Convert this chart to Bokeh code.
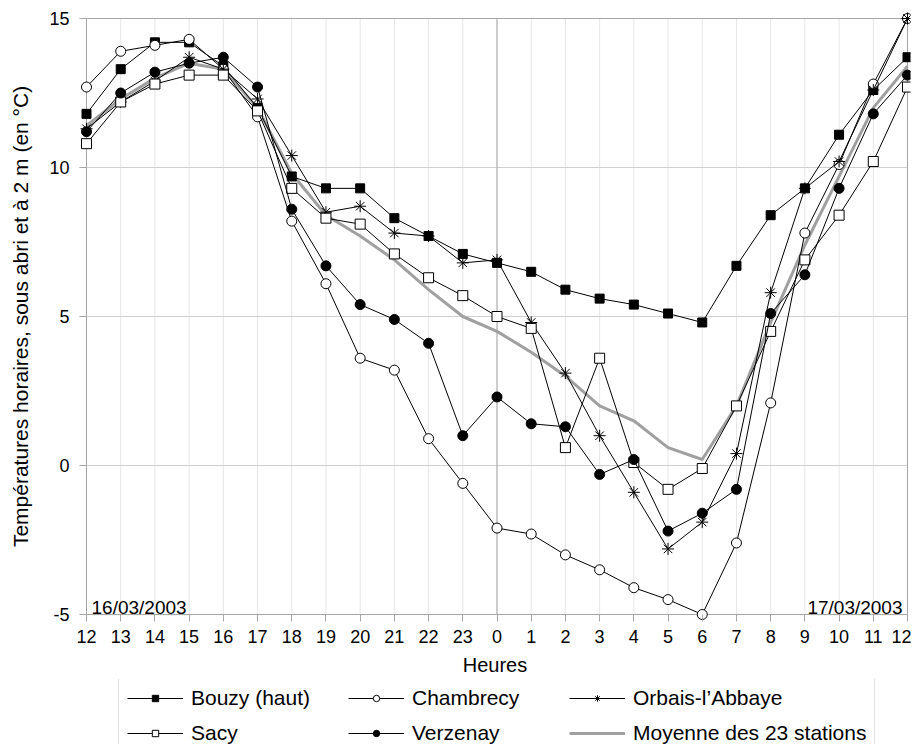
from bokeh.plotting import figure
from bokeh.layouts import column
from bokeh.models import FixedTicker, Label, Legend, LegendItem, Range1d
from bokeh.embed import file_html
from bokeh.resources import INLINE

# ---- data ----
hour_labels = ["12", "13", "14", "15", "16", "17", "18", "19", "20", "21", "22", "23",
               "0", "1", "2", "3", "4", "5", "6", "7", "8", "9", "10", "11", "12"]
y_ticks = [-5, 0, 5, 10, 15]

bouzy = [11.8, 13.3, 14.2, 14.2, 13.4, 12.0, 9.7, 9.3, 9.3, 8.3, 7.7, 7.1, 6.8, 6.5, 5.9,
         5.6, 5.4, 5.1, 4.8, 6.7, 8.4, 9.3, 11.1, 12.6, 13.7]
chambrecy = [12.7, 13.9, 14.1, 14.3, 13.3, 11.7, 8.2, 6.1, 3.6, 3.2, 0.9, -0.6, -2.1, -2.3, -3.0,
             -3.5, -4.1, -4.5, -5.0, -2.6, 2.1, 7.8, 10.1, 12.8, 15.0]
orbais = [11.3, 12.2, 12.9, 13.7, 13.3, 12.3, 10.4, 8.5, 8.7, 7.8, 7.7, 6.8, 6.9, 4.8, 3.1,
          1.0, -0.9, -2.8, -1.9, 0.4, 5.8, 9.3, 10.2, 12.6, 15.0]
sacy = [10.8, 12.2, 12.8, 13.1, 13.1, 11.9, 9.3, 8.3, 8.1, 7.1, 6.3, 5.7, 5.0, 4.6, 0.6,
        3.6, 0.1, -0.8, -0.1, 2.0, 4.5, 6.9, 8.4, 10.2, 12.7]
verzenay = [11.2, 12.5, 13.2, 13.5, 13.7, 12.7, 8.6, 6.7, 5.4, 4.9, 4.1, 1.0, 2.3, 1.4, 1.3,
            -0.3, 0.2, -2.2, -1.6, -0.8, 5.1, 6.4, 9.3, 11.8, 13.1]
moyenne = [11.4, 12.3, 13.0, 13.5, 13.3, 12.0, 9.8, 8.4, 7.7, 6.9, 5.9, 5.0, 4.5, 3.8, 3.0,
           2.0, 1.5, 0.6, 0.2, 2.0, 4.8, 7.4, 9.7, 12.0, 13.4]

series_names = ["Bouzy (haut)", "Chambrecy", "Orbais-l\u2019Abbaye", "Sacy", "Verzenay",
                "Moyenne des 23 stations"]

x = list(range(len(hour_labels)))
x_first, x_last = x[0], x[-1]
y_min, y_max = y_ticks[0], y_ticks[-1]
midnight = hour_labels.index("0")

FONT = "Liberation Sans"

# ---- layout (pixels) ----
W = 911
FRAME_L, FRAME_R_BORDER, FRAME_T = 79, 1, 11
PAD_L, PAD_R, PAD_T, PAD_B = 7, 3, 7, 7
DATA_W = W - FRAME_L - FRAME_R_BORDER - PAD_L - PAD_R
DATA_H = 596
H1 = 679
H2 = 744 - H1
frame_bottom = FRAME_T + PAD_T + DATA_H + PAD_B
px_x = DATA_W / (x_last - x_first)
px_y = DATA_H / (y_max - y_min)

p = figure(width=W, height=H1, output_backend="svg", toolbar_location=None,
           x_range=Range1d(x_first - PAD_L / px_x, x_last + PAD_R / px_x),
           y_range=Range1d(y_min - PAD_B / px_y, y_max + PAD_T / px_y),
           min_border_left=FRAME_L, min_border_right=FRAME_R_BORDER,
           min_border_top=FRAME_T, min_border_bottom=H1 - frame_bottom)
p.outline_line_color = None
p.background_fill_color = "white"
p.border_fill_color = "white"
p.xgrid.visible = False
p.ygrid.visible = False

# grid lines
p.segment(x0=x, y0=[y_min] * len(x), x1=x, y1=[y_max] * len(x),
          line_color="#e6e6e6", line_width=1)
inner_y = y_ticks[1:-1]
p.segment(x0=[x_first] * len(inner_y), y0=inner_y, x1=[x_last] * len(inner_y), y1=inner_y,
          line_color="#d0d0d0", line_width=1)
# frame border + midnight line
p.segment(x0=[x_first, x_last, midnight, x_first, x_first],
          y0=[y_min, y_min, y_min, y_max, y_min],
          x1=[x_first, x_last, midnight, x_last, x_last],
          y1=[y_max, y_max, y_max, y_max, y_min],
          line_color="#a6a6a6", line_width=1)

# axes
p.xaxis.ticker = FixedTicker(ticks=x)
p.xaxis.major_label_overrides = {i: lab for i, lab in enumerate(hour_labels)}
p.yaxis.ticker = FixedTicker(ticks=y_ticks)
p.yaxis.major_label_overrides = {v: str(v) for v in y_ticks}
for ax in (p.xaxis[0], p.yaxis[0]):
    ax.axis_line_color = None
    ax.major_tick_in = 7
    ax.major_tick_out = 0
    ax.major_tick_line_color = "#a6a6a6"
    ax.minor_tick_line_color = None
    ax.major_label_text_font = FONT
    ax.major_label_text_font_size = "18px"
    ax.major_label_text_color = "black"
    ax.axis_label_text_font = FONT
    ax.axis_label_text_font_style = "normal"
    ax.axis_label_text_color = "black"
p.xaxis.axis_label = "Heures"
p.yaxis.axis_label = "Températures horaires, sous abri et à 2 m (en °C)"
p.xaxis.axis_label_text_font_size = "20px"
p.yaxis.axis_label_text_font_size = "21px"
p.xaxis.major_label_standoff = 8
p.xaxis.axis_label_standoff = 8
p.yaxis.major_label_standoff = 10
p.yaxis.axis_label_standoff = 14

# series
styles = [("square", "black", 9), ("circle", "white", 10), ("asterisk", None, 12),
          ("square", "white", 10), ("circle", "black", 10)]
legend_marker_sizes = [7, 7, 9, 7, 7]
values = [bouzy, chambrecy, orbais, sacy, verzenay]
MEAN_COLOR = "#a0a0a0"

def draw(fig, vals, style, size=None):
    marker, fill, msize = style
    rl = fig.line(x, vals, line_color="black", line_width=1)
    rm = fig.scatter(x, vals, marker=marker, size=size or msize, line_color="black",
                     fill_color=fill, line_width=1)
    return [rl, rm]

p.line(x, moyenne, line_color=MEAN_COLOR, line_width=3)
for vals, st in zip(values, styles):
    draw(p, vals, st)

# date annotations
p.add_layout(Label(x=x_first, y=y_min, text="16/03/2003", x_offset=5, y_offset=7,
                   text_font=FONT, text_font_size="19px", text_color="black",
                   text_baseline="alphabetic", text_align="left"))
p.add_layout(Label(x=x_last, y=y_min, text="17/03/2003", x_offset=-5, y_offset=7,
                   text_font=FONT, text_font_size="19px", text_color="black",
                   text_baseline="alphabetic", text_align="right"))

# ---- legend strip below the chart ----
# its own renderers repeat the series but the view range keeps them out of sight
p2 = figure(width=W, height=H2, output_backend="svg", toolbar_location=None,
            x_range=Range1d(1000, 1001), y_range=Range1d(1000, 1001),
            x_axis_location=None, y_axis_location=None,
            min_border_left=FRAME_L, min_border_right=FRAME_R_BORDER,
            min_border_top=0, min_border_bottom=0)
p2.grid.visible = False
p2.outline_line_color = None
p2.background_fill_color = "white"
p2.border_fill_color = "white"

items = []
for name, vals, st, ls in zip(series_names[:5], values, styles, legend_marker_sizes):
    items.append(LegendItem(label=name, renderers=draw(p2, vals, st, ls)))
rmean = p2.line(x, moyenne, line_color=MEAN_COLOR, line_width=3)
items.append(LegendItem(label=series_names[5], renderers=[rmean]))

PADDING, SPACING, ROW_H = 8, 11, 24
legend_h = 2 * PADDING + 2 * ROW_H + SPACING
legend = Legend(items=items, ncols=3, orientation="horizontal",
                location=(118 - FRAME_L, H2 - legend_h))
legend.label_text_font = FONT
legend.label_text_font_size = "21px"
legend.label_text_color = "black"
legend.glyph_width = 56
legend.glyph_height = 16
legend.label_standoff = 8
legend.label_height = ROW_H
legend.label_width = 146
legend.padding = PADDING
legend.spacing = SPACING
legend.margin = 0
legend.border_line_color = "#c4c4c4"
legend.border_line_width = 1
legend.background_fill_color = "white"
legend.background_fill_alpha = 1.0
p2.add_layout(legend, "center")

layout = column(p, p2, spacing=0)
open("out.html", "w").write(file_html(layout, INLINE))
